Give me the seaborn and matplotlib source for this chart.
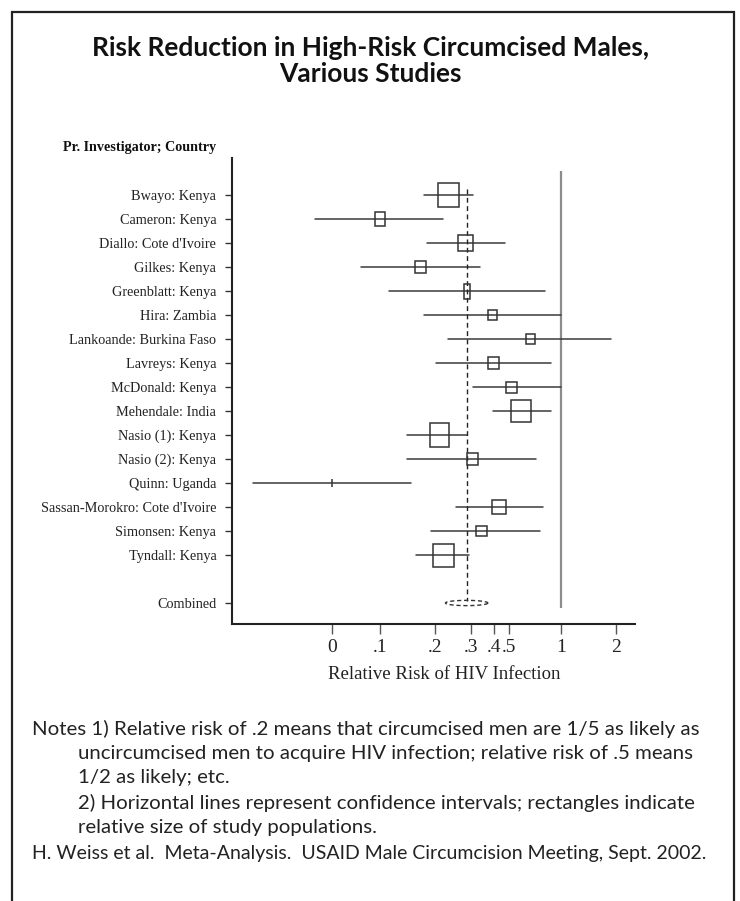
import numpy as np
import pandas as pd
import matplotlib
matplotlib.use("Agg")
import matplotlib.pyplot as plt
from matplotlib.patches import Rectangle
import seaborn as sns

# ---------------- data ----------------
studies = ["Bwayo: Kenya", "Cameron: Kenya", "Diallo: Cote d'Ivoire", "Gilkes: Kenya",
           "Greenblatt: Kenya", "Hira: Zambia", "Lankoande: Burkina Faso", "Lavreys: Kenya",
           "McDonald: Kenya", "Mehendale: India", "Nasio (1): Kenya", "Nasio (2): Kenya",
           "Quinn: Uganda", "Sassan-Morokro: Cote d'Ivoire", "Simonsen: Kenya", "Tyndall: Kenya"]
rr =      [0.239, 0.100, 0.296, 0.167, 0.301, 0.417, 0.678, 0.421,
           0.532, 0.599, 0.213, 0.322, 0.054, 0.451, 0.363, 0.224]
ci_low =  [0.174, 0.0434, 0.182, 0.0782, 0.111, 0.174, 0.238, 0.204,
           0.324, 0.421, 0.141, 0.141, 0.0199, 0.262, 0.190, 0.158]
ci_high = [0.326, 0.223, 0.490, 0.354, 0.813, 1.00, 1.875, 0.874,
           1.00, 0.874, 0.302, 0.728, 0.147, 0.792, 0.760, 0.308]
# relative study size (rectangle width / height)
size_w = [21.3, 10.3, 15.7, 10.3, 6.7, 9.7, 9.3, 11.3,
          11.3, 20.7, 19.0, 11.3, 0.5, 14.0, 10.7, 21.0]
size_h = [23.3, 13.3, 16.7, 11.7, 15.0, 9.7, 9.3, 12.0,
          11.0, 22.3, 23.3, 11.3, 8.0, 14.3, 10.0, 23.0]
combined_label = "Combined"
combined_rr = 0.30
combined_low = 0.229
combined_high = 0.393

xtick_values = [0.054, 0.1, 0.2, 0.318, 0.423, 0.516, 1, 2]
xtick_labels = ["0", ".1", ".2", ".3", ".4", ".5", "1", "2"]

title_text = "Risk Reduction in High-Risk Circumcised Males,\nVarious Studies"
ylabel_text = "Pr. Investigator; Country"
xlabel_text = "Relative Risk of HIV Infection"
notes = [
    ("Notes 1) Relative risk of .2 means that circumcised men are 1/5 as likely as", 0),
    ("uncircumcised men to acquire HIV infection; relative risk of .5 means", 1),
    ("1/2 as likely; etc.", 1),
    ("2) Horizontal lines represent confidence intervals; rectangles indicate", 1),
    ("relative size of study populations.", 1),
]
citation = "H. Weiss et al.  Meta-Analysis.  USAID Male Circumcision Meeting, Sept. 2002."

# ---------------- figure ----------------
sns.set_theme(style="ticks")
plt.rcParams["font.family"] = ["Liberation Serif", "DejaVu Serif"]

W, H = 740, 901
fig = plt.figure(figsize=(W / 100, H / 100), dpi=100)
fig.patch.set_facecolor("white")

def fx(px):
    return px / W

def fy(py):
    return 1 - py / H

ax_l, ax_r, ax_t, ax_b = 232, 635, 158, 624
ax = fig.add_axes([fx(ax_l), fy(ax_b), (ax_r - ax_l) / W, (ax_b - ax_t) / H])
ax.set_facecolor("white")
ax.set_xscale("log")

px_per_decade = 181.0
x_at_01 = 380.3
xmin = 0.1 * 10 ** ((ax_l - x_at_01) / px_per_decade)
xmax = 0.1 * 10 ** ((ax_r - x_at_01) / px_per_decade)
row_px = 24.0
first_row_px = 195.0
ymin_row = (ax_b - first_row_px) / row_px
ymax_row = (ax_t - first_row_px) / row_px
ax.set_xlim(xmin, xmax)
ax.set_ylim(ymin_row, ymax_row)

rows = list(range(len(studies)))
comb_row = len(studies) + 1

# confidence interval lines via seaborn
df = pd.DataFrame({
    "study": studies * 2,
    "row": rows * 2,
    "x": ci_low + ci_high,
})
sns.lineplot(data=df, x="x", y="row", units="study", estimator=None, sort=False,
             color="#3a3a3a", linewidth=1.1, ax=ax, legend=False)

# vertical reference lines
ax.vlines(1, -1.0, comb_row + 0.22, color="#8c8c8c", linewidth=1.6, zorder=1)
ax.vlines(combined_rr, -0.25, comb_row - 0.1, color="#222222", linewidth=1.0,
          linestyles=(0, (3.5, 2.5)), zorder=2)

# study rectangles
for r, c, w, h in zip(rows, rr, size_w, size_h):
    half_dec = w / 2 / px_per_decade
    x0 = c * 10 ** (-half_dec)
    x1 = c * 10 ** (half_dec)
    hh = h / row_px
    ax.add_patch(Rectangle((x0, r - hh / 2), x1 - x0, hh, fill=False,
                           edgecolor="#333333", linewidth=1.1, zorder=3))

# combined estimate (dashed ellipse)
t = np.linspace(0, 2 * np.pi, 200)
lmid = (np.log10(combined_low) + np.log10(combined_high)) / 2
lhalf = (np.log10(combined_high) - np.log10(combined_low)) / 2
ax.plot(10 ** (lmid + lhalf * np.cos(t)), comb_row + 0.11 * np.sin(t),
        color="#333333", linewidth=1.0, linestyle=(0, (3, 2)), zorder=3)

# axes styling
ax.set_yticks(rows + [comb_row])
ax.set_yticklabels(studies + [combined_label], fontsize=10.3, color="#222222")
ax.set_xticks(xtick_values)
ax.set_xticklabels(xtick_labels, fontsize=14, color="#222222")
ax.xaxis.set_minor_locator(matplotlib.ticker.NullLocator())
ax.tick_params(axis="y", length=5.3, width=1.0, color="#333333", pad=6)
ax.tick_params(axis="x", length=7, width=1.0, color="#555555", pad=4)
ax.set_xlabel(xlabel_text, fontsize=13.5, color="#222222", labelpad=1)
ax.xaxis.set_label_coords((444.5 - ax_l) / (ax_r - ax_l), -0.09)
ax.set_ylabel("")
for s in ["top", "right"]:
    ax.spines[s].set_visible(False)
for s in ["left", "bottom"]:
    ax.spines[s].set_linewidth(1.5)
    ax.spines[s].set_color("#222222")

# header above labels
fig.text(fx(216), fy(148), ylabel_text, ha="right", va="center",
         fontsize=10.2, fontweight="bold", color="#111111")

# title
fig.text(0.5, fy(61), title_text, ha="center", va="center", fontsize=19,
         fontweight="bold", family=["Lato", "DejaVu Sans"], color="#111111",
         linespacing=1.12)

# notes
note_y = [729, 753, 778, 803, 827]
for (txt, indent), yy in zip(notes, note_y):
    fig.text(fx(32 if indent == 0 else 78), fy(yy), txt, ha="left", va="center",
             fontsize=14.7, family=["Lato", "DejaVu Sans"], color="#222222")
fig.text(fx(32), fy(853), citation, ha="left", va="center",
         fontsize=14.0, family=["Lato", "DejaVu Sans"], color="#222222")

# outer frame
fig.patches.append(Rectangle((fx(12), -0.05), (734 - 12) / W, fy(12) + 0.05,
                             transform=fig.transFigure, fill=False,
                             edgecolor="#222222", linewidth=1.6))

fig.savefig("out.png", dpi=100, facecolor="white")
